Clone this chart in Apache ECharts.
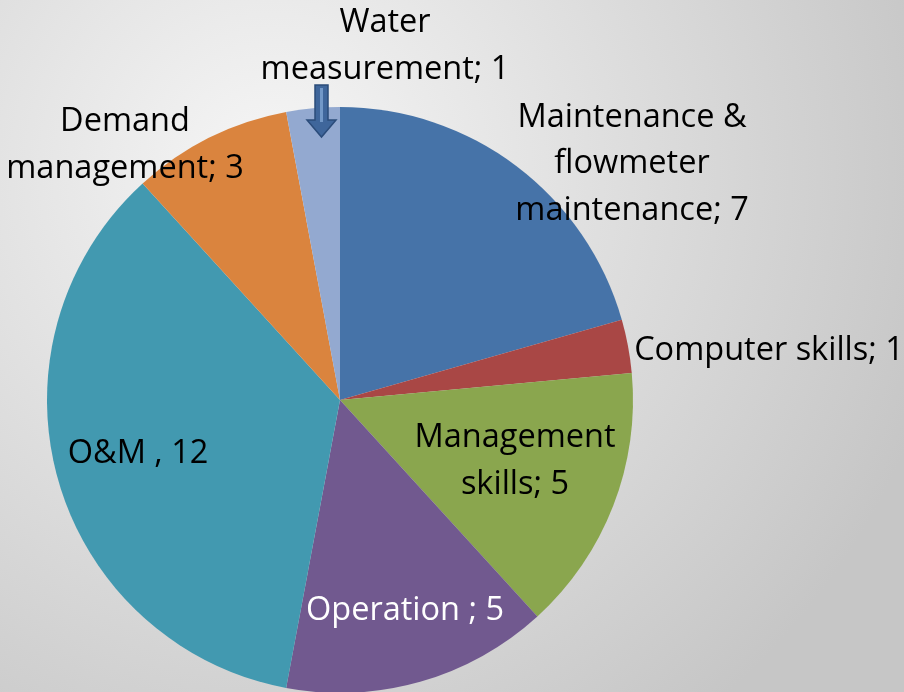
<!DOCTYPE html>
<html>
<head>
<meta charset="utf-8">
<script src="https://cdn.jsdelivr.net/npm/echarts@6/dist/echarts.min.js"></script>
<style>
  html, body { margin: 0; padding: 0; }
  #main { width: 904px; height: 692px; }
</style>
</head>
<body>
<div id="main"></div>
<script>
var categories = [
  'Maintenance &\nflowmeter\nmaintenance; 7',
  'Computer skills; 1',
  'Management\nskills; 5',
  'Operation ; 5',
  'O&M , 12',
  'Demand\nmanagement; 3',
  'Water\nmeasurement; 1'
];
var values = [7, 1, 5, 5, 12, 3, 1];
var colors = ['#4673a8', '#a94745', '#8aa64e', '#71598f', '#4299b0', '#da843e', '#93a9d0'];
var labelColors = ['#000', '#000', '#000', '#fff', '#000', '#000', '#000'];
// label centres in the picture
var labelPos = [[632, 164], [769, 351], [515, 461], [405, 611], [138, 454], [125, 145], [385, 46]];

var chart = echarts.init(document.getElementById('main'));

var data = categories.map(function (name, i) {
  return {
    name: name,
    value: values[i],
    itemStyle: { color: colors[i] },
    label: { color: labelColors[i] }
  };
});

var option = {
  backgroundColor: {
    type: 'radial', x: 0.3, y: 0.25, r: 1,
    colorStops: [
      { offset: 0, color: '#f6f6f6' },
      { offset: 1, color: '#c6c6c6' }
    ]
  },
  animation: false,
  series: [
    {
      type: 'pie',
      center: [340, 400],
      radius: 293,
      startAngle: 90,
      data: data,
      label: {
        show: true,
        position: 'inside',
        formatter: '{b}',
        fontFamily: 'Open Sans',
        fontSize: 32.5,
        lineHeight: 46.5,
        align: 'center'
      },
      labelLine: { show: false },
      labelLayout: function (params) {
        var p = labelPos[params.dataIndex];
        return { x: p[0], y: p[1], align: 'center', verticalAlign: 'middle' };
      }
    }
  ],
  graphic: [
    {
      type: 'polygon',
      zlevel: 1,
      z: 100,
      shape: { points: [[315, 85], [328, 85], [328, 120], [336, 120], [321.5, 137], [307, 120], [315, 120]] },
      style: { fill: '#3f669b', stroke: '#2b4c7a', lineWidth: 1.5 }
    },
    {
      type: 'rect',
      zlevel: 1,
      z: 101,
      shape: { x: 320, y: 88, width: 3, height: 34 },
      style: { fill: '#7298c8' }
    }
  ]
};

chart.setOption(option);
</script>
</body>
</html>
